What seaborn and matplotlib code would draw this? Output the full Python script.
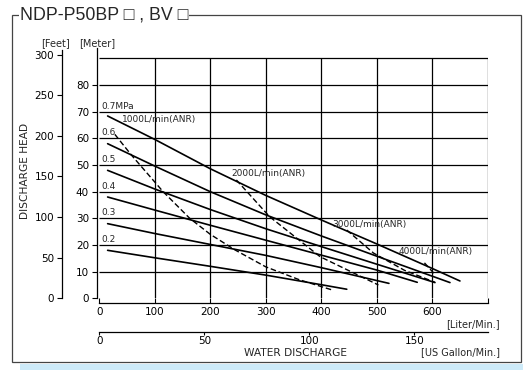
import matplotlib
matplotlib.use("Agg")
import matplotlib.pyplot as plt
import seaborn as sns
from matplotlib.patches import Rectangle

W, H = 523, 370

# pressure curves: flow [Liter/Min.] vs head [Meter]
pressure_names = ["0.7MPa", "0.6", "0.5", "0.4", "0.3", "0.2"]
p07_x = [15, 100, 200, 300, 400, 500, 600, 650]
p07_y = [68.4, 59.6, 48.6, 38.6, 29.4, 20.4, 11.2, 6.5]
p06_x = [15, 100, 200, 300, 400, 500, 600, 632]
p06_y = [58.0, 49.6, 40.0, 31.3, 23.4, 15.8, 8.3, 5.9]
p05_x = [15, 100, 200, 300, 400, 500, 605]
p05_y = [48.0, 41.0, 33.3, 26.1, 19.4, 12.8, 5.9]
p04_x = [15, 100, 200, 300, 400, 500, 573]
p04_y = [38.0, 33.1, 27.4, 21.8, 16.2, 10.6, 6.0]
p03_x = [15, 100, 200, 300, 400, 522]
p03_y = [28.0, 24.3, 20.2, 16.1, 11.5, 5.6]
p02_x = [15, 100, 200, 300, 400, 446]
p02_y = [18.0, 15.2, 12.0, 8.7, 5.1, 3.4]

# air consumption curves (dashed)
air_names = ["1000L/min(ANR)", "2000L/min(ANR)", "3000L/min(ANR)", "4000L/min(ANR)"]
a1000_x = [28, 58, 115, 163, 200, 245, 300, 360, 420]
a1000_y = [61.5, 53.7, 40.0, 30.0, 24.0, 18.1, 11.8, 7.0, 3.1]
a2000_x = [247, 307, 398, 503]
a2000_y = [44.4, 30.6, 15.6, 5.0]
a3000_x = [446, 494, 550, 605]
a3000_y = [25.6, 17.0, 10.5, 6.0]
a4000_x = [586, 606]
a4000_y = [13.3, 8.7]

liter_ticks = [0, 100, 200, 300, 400, 500, 600, 700]
gallon_ticks = [0, 50, 100, 150]
meter_ticks = [0, 10, 20, 30, 40, 50, 60, 70, 80]
feet_ticks = [0, 50, 100, 150, 200, 250, 300]
grid_h = [10, 20, 30, 40, 50, 60, 70, 80, 90]
grid_v = [100, 200, 300, 400, 500, 600, 700]

sns.set_style("ticks")
plt.rcParams["font.family"] = ["DejaVu Sans"]


def px(x, y):
    return x / W, 1 - y / H


fig = plt.figure(figsize=(W / 100, H / 100), dpi=100)
ax = fig.add_axes([99.3 / W, (H - 298.3) / H, (487.7 - 99.3) / W, (298.3 - 48) / H])
ax.set_xlim(0, 700)
ax.set_ylim(0, 93.9)

# grid
ax.hlines(grid_h, 0, 700, color="black", lw=0.9, zorder=1)
ax.vlines(grid_v, 0, 90, color="black", lw=0.9, zorder=1)

# curves
pressure_x = [p07_x, p06_x, p05_x, p04_x, p03_x, p02_x]
pressure_y = [p07_y, p06_y, p05_y, p04_y, p03_y, p02_y]
for xs, ys in zip(pressure_x, pressure_y):
    sns.lineplot(x=xs, y=ys, ax=ax, color="black", lw=1.2, sort=False, zorder=3)

air_x = [a1000_x, a2000_x, a3000_x, a4000_x]
air_y = [a1000_y, a2000_y, a3000_y, a4000_y]
for xs, ys in zip(air_x, air_y):
    sns.lineplot(x=xs, y=ys, ax=ax, color="black", lw=1.0, sort=False,
                 linestyle=(0, (4, 2)), zorder=3)

# labels on curves
for i, name in enumerate(pressure_names):
    ax.text(3, 70.4 - 10 * i, name, fontsize=6.5, ha="left", va="bottom")
air_label_pos = [(40, 66.9), (238, 46.9), (419, 27.8), (539, 17.7)]
for (lx, ly), name in zip(air_label_pos, air_names):
    ax.text(lx, ly, name, fontsize=6.5, ha="left", va="center")

# meter axis
for s in ["top", "right"]:
    ax.spines[s].set_visible(False)
ax.spines["left"].set_position(("outward", 2))
ax.spines["bottom"].set_position(("outward", 3.6))
ax.set_yticks(meter_ticks)
ax.set_xticks(liter_ticks)
ax.set_xticklabels([str(t) for t in liter_ticks[:-1]] + [""])
ax.tick_params(axis="both", labelsize=7.5, length=3.5, width=0.8, pad=2, colors="black")
ax.tick_params(axis="x", direction="in", pad=3)
for s in ["left", "bottom"]:
    ax.spines[s].set_color("black")
    ax.spines[s].set_linewidth(0.9)

# feet axis
ax2 = ax.twinx()
ax2.set_ylim(0, 93.9 / 0.3048)
ax2.yaxis.tick_left()
ax2.spines["right"].set_visible(False)
ax2.spines["top"].set_visible(False)
ax2.spines["bottom"].set_visible(False)
ax2.spines["left"].set_visible(True)
ax2.spines["left"].set_position(("outward", 27))
ax2.spines["left"].set_bounds(0, 306)
ax2.spines["left"].set_color("black")
ax2.spines["left"].set_linewidth(0.9)
ax2.set_yticks(feet_ticks)
ax2.tick_params(axis="y", labelsize=7.5, length=3.5, width=0.8, pad=2, colors="black")

# gallon axis
secax = ax.secondary_xaxis(-0.1334, functions=(lambda l: l / 3.78541, lambda g: g * 3.78541))
secax.set_xticks(gallon_ticks)
secax.spines["bottom"].set_color("black")
secax.spines["bottom"].set_linewidth(0.9)
secax.tick_params(axis="x", labelsize=7.5, length=2.5, width=0.8, pad=0.5, colors="black")

# axis texts
fig.text(*px(55, 43), "[Feet]", fontsize=7, ha="center", va="center")
fig.text(*px(97, 43), "[Meter]", fontsize=7, ha="center", va="center")
fig.text(*px(25, 171), "DISCHARGE HEAD", fontsize=7.7, rotation=90, ha="center", va="center")
fig.text(*px(500, 324), "[Liter/Min.]", fontsize=7, ha="right", va="center")
fig.text(*px(500, 352), "[US Gallon/Min.]", fontsize=7, ha="right", va="center")
fig.text(*px(296, 353), "WATER DISCHARGE", fontsize=7.7, ha="center", va="center")

# frame, title and band
fig.patches.append(Rectangle(px(12.3, 361.7), (521.5 - 12.3) / W, (361.7 - 15) / H,
                             transform=fig.transFigure, fill=False,
                             edgecolor="#444444", lw=0.9, zorder=0))
fig.patches.append(Rectangle(px(20, 370), (523 - 20) / W, (370 - 364) / H,
                             transform=fig.transFigure, facecolor="#cdeaf8",
                             edgecolor="none", zorder=0))
fig.text(*px(20, 15), "NDP-P50BP \u25a1 , BV \u25a1", fontsize=12.8,
         family=["Liberation Sans", "DejaVu Sans"], ha="left", va="center",
         bbox=dict(facecolor="white", edgecolor="none", pad=0.5))

fig.savefig("out.png", dpi=100)
